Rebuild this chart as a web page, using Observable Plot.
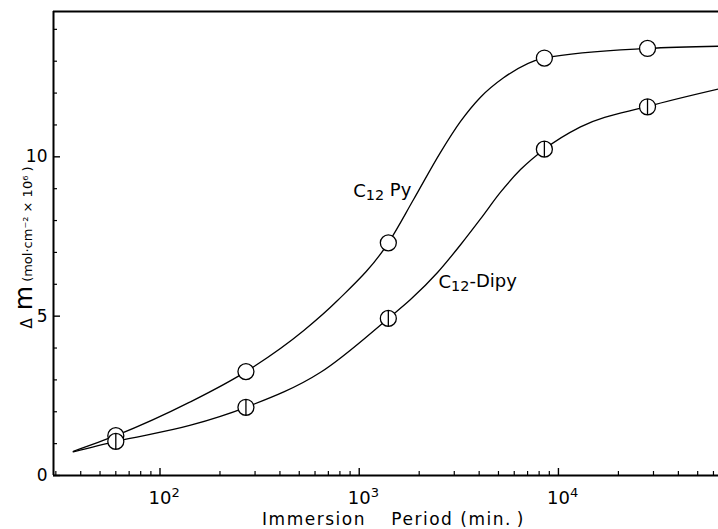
<!DOCTYPE html>
<html><head><meta charset="utf-8">
<script src="https://cdn.jsdelivr.net/npm/d3@7"></script>
<script src="https://cdn.jsdelivr.net/npm/@observablehq/plot@0.6"></script>
<style>html,body{margin:0;padding:0;background:#fff}</style>
</head><body><div id="chart"></div>
<script>
// measured points (immersion period in min, Δm in mol·cm⁻²×10⁶)
const times = [60, 270, 1400, 8500, 28000];
const pyValues = [1.25, 3.26, 7.3, 13.1, 13.4];
const dipyValues = [1.07, 2.14, 4.93, 10.24, 11.57];
// hand-drawn curves
const pyCurveT = [36.7, 60, 141, 270, 527, 778, 1400, 1874, 2559, 3226, 4063, 5302, 8500, 28000, 63600];
const pyCurveV = [0.76, 1.25, 2.30, 3.26, 4.55, 5.49, 7.3, 8.66, 10.14, 11.11, 11.87, 12.48, 13.1, 13.4, 13.47];
const dipyCurveT = [36.7, 60, 141, 270, 640, 1400, 1809, 2472, 3226, 4063, 5121, 6452, 8500, 12905, 28000, 63600];
const dipyCurveV = [0.74, 1.07, 1.57, 2.14, 3.24, 4.93, 5.52, 6.37, 7.24, 8.05, 8.89, 9.6, 10.24, 10.94, 11.58, 12.13];
// axes
const xMajorTicks = [100, 1000, 10000];
const xTickBase = "10";
const xTickExponents = ["2", "3", "4"];
const xMinorTicks = [30, 40, 50, 60, 70, 80, 90, 200, 300, 400, 500, 600, 700, 800, 900,
  2000, 3000, 4000, 5000, 6000, 7000, 8000, 9000, 20000, 30000, 40000, 50000, 60000];
const yMajorTicks = [0, 5, 10];
const yMinorTicks = [1, 2, 3, 4, 6, 7, 8, 9, 11, 12, 13, 14];
const xDomain = [29.2, 63600];
const yDomain = [0, 14.56];
const seriesNames = ["C12 Py", "C12-Dipy"];
const seriesLabelAt = [[933, 8.74], [2500, 5.88]];
const xLabel = "Immersion\u2003 Period (min.\u2009)";
const yLabel = "Δ m (mol·cm⁻² × 10⁶ )";

const pyPts = times.map((t, i) => ({t, v: pyValues[i]}));
const dipyPts = times.map((t, i) => ({t, v: dipyValues[i]}));
const pyCurve = pyCurveT.map((t, i) => ({t, v: pyCurveV[i]}));
const dipyCurve = dipyCurveT.map((t, i) => ({t, v: dipyCurveV[i]}));
const labels = seriesNames.map((s, i) => ({s, t: seriesLabelAt[i][0], v: seriesLabelAt[i][1]}));
const exps = xMajorTicks.map((t, i) => ({t, e: xTickExponents[i]}));

const barredCircle = {
  draw(ctx, size) {
    const r = Math.sqrt(size / Math.PI);
    ctx.moveTo(r, 0);
    ctx.arc(0, 0, r, 0, 2 * Math.PI);
    ctx.moveTo(0, -r);
    ctx.lineTo(0, r);
  }
};

const chart = Plot.plot({
  width: 718,
  height: 529,
  marginLeft: 53,
  marginRight: 0,
  marginTop: 11,
  marginBottom: 54,
  style: {background: "white", fontFamily: "DejaVu Sans", color: "black", overflow: "visible"},
  x: {type: "log", domain: xDomain},
  y: {domain: yDomain},
  marks: [
    // frame lines
    Plot.ruleY([yDomain[0]], {stroke: "black", strokeWidth: 2}),
    Plot.ruleY([yDomain[1]], {stroke: "black", strokeWidth: 1.8}),
    Plot.ruleX([xDomain[0]], {stroke: "black", strokeWidth: 2}),
    // x axis
    Plot.axisX({ticks: xMinorTicks, tickSize: 4, dy: -4, tickFormat: () => "", label: null, strokeWidth: 1.2}),
    Plot.axisX({ticks: xMajorTicks, tickSize: 7, dy: -7, tickFormat: () => "", label: null, strokeWidth: 1.4}),
    Plot.axisX({ticks: xMajorTicks, tickSize: 0, tickPadding: 16, fontSize: 18,
      tickFormat: () => xTickBase, label: null}),
    Plot.text(exps, {x: "t", text: "e", frameAnchor: "bottom", dy: 21, dx: 11.5,
      textAnchor: "start", lineAnchor: "bottom", fontSize: 13}),
    // y axis
    Plot.axisY({ticks: yMinorTicks, tickSize: 4, dx: 4, tickFormat: () => "", label: null, strokeWidth: 1.2}),
    Plot.axisY({ticks: yMajorTicks, tickSize: 7, dx: 7, tickFormat: () => "", label: null, strokeWidth: 1.4}),
    Plot.axisY({ticks: yMajorTicks, tickSize: 0, tickPadding: 6, fontSize: 17, label: null}),
    // curves
    Plot.line(pyCurve, {x: "t", y: "v", curve: "monotone-x", stroke: "black", strokeWidth: 1.3}),
    Plot.line(dipyCurve, {x: "t", y: "v", curve: "monotone-x", stroke: "black", strokeWidth: 1.3}),
    // points
    Plot.dot(pyPts, {x: "t", y: "v", r: 8, fill: "white", stroke: "black", strokeWidth: 1.3}),
    Plot.dot(dipyPts, {x: "t", y: "v", r: 8, symbol: barredCircle, fill: "white", stroke: "black", strokeWidth: 1.3}),
    // series labels
    Plot.text(labels, {x: "t", y: "v", text: "s", textAnchor: "start", lineAnchor: "bottom", fontSize: 18}),
    // axis titles
    Plot.text([xLabel], {frameAnchor: "bottom", dy: 49.5, dx: 7.5, lineAnchor: "bottom", textAnchor: "middle", fontSize: 17}),
    Plot.text([yLabel], {frameAnchor: "left", dx: -22, dy: 4, rotate: -90, lineAnchor: "bottom", textAnchor: "middle", fontSize: 13})
  ]
});

document.getElementById("chart").appendChild(chart);

// typographic refinements: subscripts and mixed sizes as real text
const svg = d3.select(chart);
svg.selectAll("text").each(function() {
  const el = d3.select(this);
  const txt = this.textContent;
  if (seriesNames.includes(txt)) {
    const rest = txt.slice(3);
    el.text(null);
    el.append("tspan").text("C");
    el.append("tspan").attr("font-size", "0.8em").attr("dy", "0.18em").text("12");
    el.append("tspan").attr("dy", "-0.18em").text(rest);
  } else if (txt === xLabel) {
    el.attr("letter-spacing", "1.5px");
  } else if (txt === yLabel) {
    el.text(null);
    el.append("tspan").attr("font-size", 15).text("Δ");
    el.append("tspan").attr("font-size", 25).text(" m");
    el.append("tspan").attr("font-size", 13).text(" (mol·cm⁻² × 10⁶ )");
  }
});
</script>
</body></html>
